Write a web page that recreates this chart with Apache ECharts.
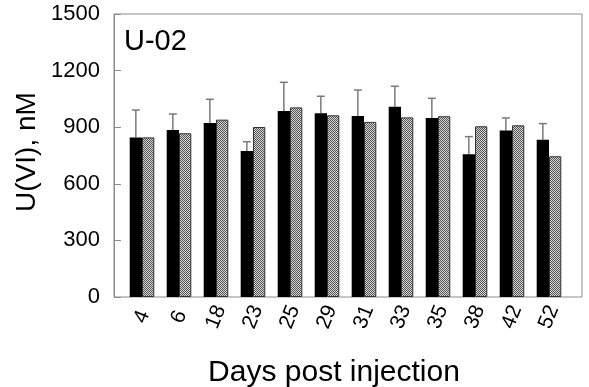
<!DOCTYPE html>
<html><head><meta charset="utf-8">
<script src="https://cdn.jsdelivr.net/npm/echarts@6/dist/echarts.min.js"></script>
<style>html,body{margin:0;padding:0;background:#fff}#c{width:589px;height:387px}</style>
</head><body><div id="c"></div>
<script>
const categories = ['4','6','18','23','25','29','31','33','35','38','42','52'];
const blackValues = [846,885,922,774,986,974,959,1009,949,756,883,834];
const hatchedValues = [846,868,940,901,1005,963,928,952,958,905,910,746];
const blackErrors = [145,85,126,49,152,90,138,108,104,94,66,85];
const yTicks = [0,300,600,900,1200,1500];

const pc = document.createElement('canvas');
pc.width = 2; pc.height = 2;
const g = pc.getContext('2d');
g.fillStyle = '#d4d4d4'; g.fillRect(0,0,2,2);
g.fillStyle = '#555555'; g.fillRect(0,0,1,1); g.fillRect(1,1,1,1);

const chart = echarts.init(document.getElementById('c'), null, {renderer:'canvas'});
const font = '"Liberation Sans", Arial, sans-serif';
const BW = 12.3;
chart.setOption({
  animation:false,
  textStyle:{fontFamily:font},
  grid:[
    {left:114, top:14, width:468, height:283, show:true, borderColor:'#8c8c8c', borderWidth:1, backgroundColor:'transparent'},
    {left:123.5, top:14, width:444, height:283}
  ],
  xAxis:[
    {gridIndex:0, type:'category', data:categories, show:false},
    {gridIndex:1, type:'category', data:categories,
      axisLine:{show:false}, axisTick:{show:false},
      axisLabel:{rotate:68, align:'center', verticalAlign:'middle', margin:20, fontSize:21, color:'#000', fontFamily:font}}
  ],
  yAxis:[
    {gridIndex:0, type:'value', min:yTicks[0], max:yTicks[yTicks.length-1], interval:300,
      axisLine:{show:true, lineStyle:{color:'#8c8c8c'}},
      axisTick:{show:true, inside:true, length:7, lineStyle:{color:'#8c8c8c'}},
      splitLine:{show:false},
      axisLabel:{margin:14, fontSize:22, color:'#000', fontFamily:font, formatter:function(v){return String(v);}}},
    {gridIndex:1, type:'value', min:0, max:1500, show:false, splitLine:{show:false}}
  ],
  series:[
    {type:'bar', xAxisIndex:1, yAxisIndex:1, data:blackValues, barWidth:BW, barGap:'0%',
      itemStyle:{color:'#000', borderColor:'#000', borderWidth:0}},
    {type:'bar', xAxisIndex:1, yAxisIndex:1, data:hatchedValues, barWidth:BW, barGap:'0%',
      itemStyle:{color:{image:pc, repeat:'repeat'}, borderColor:'#333', borderWidth:1}},
    {type:'custom', xAxisIndex:1, yAxisIndex:1, z:1,
      data:blackValues.map((v,i)=>[i, v, v+blackErrors[i]]),
      renderItem:function(params, api){
        const base = api.coord([api.value(0), api.value(1)]);
        const top = api.coord([api.value(0), api.value(2)]);
        const x = base[0] - BW/2;
        const st = {stroke:'#7a7a7a', lineWidth:1.5};
        return {type:'group', children:[
          {type:'line', shape:{x1:x, y1:base[1], x2:x, y2:top[1]}, style:st},
          {type:'line', shape:{x1:x-4, y1:top[1], x2:x+4, y2:top[1]}, style:st}
        ]};
      }}
  ],
  graphic:[
    {type:'text', left:124, top:27, style:{text:'U-02', font:'29px '+font, fill:'#000'}},
    {type:'text', x:27, y:152, rotation:Math.PI/2, style:{text:'U(VI), nM', font:'28px '+font, fill:'#000', align:'center', verticalAlign:'middle'}},
    {type:'text', x:334, y:373, style:{text:'Days post injection', font:'30px '+font, fill:'#000', align:'center', verticalAlign:'middle'}}
  ]
});
</script></body></html>
